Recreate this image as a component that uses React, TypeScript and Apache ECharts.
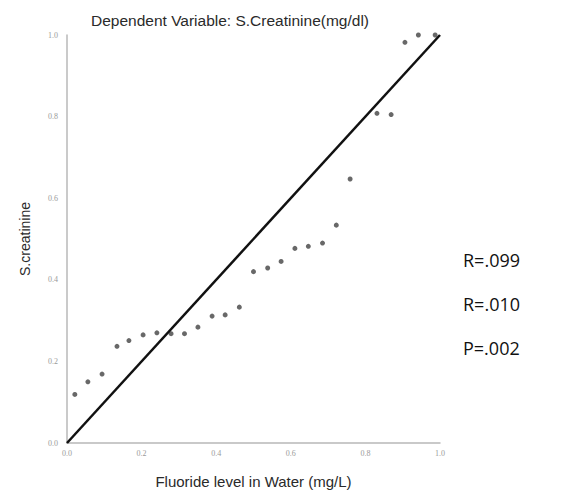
import React, { useEffect, useRef } from "react";
import * as echarts from "echarts";

// Expected (x) and observed (y) cumulative probabilities for S.Creatinine
const observedCumProb = [
  0.021, 0.056, 0.094, 0.134, 0.166, 0.204, 0.241, 0.279, 0.315, 0.351, 0.389,
  0.424, 0.462, 0.5, 0.538, 0.574, 0.611, 0.647, 0.685, 0.722, 0.759, 0.831,
  0.869, 0.906, 0.942, 0.987,
];
const expectedCumProb = [
  0.119, 0.15, 0.169, 0.237, 0.251, 0.265, 0.27, 0.268, 0.268, 0.284, 0.311,
  0.314, 0.333, 0.42, 0.429, 0.445, 0.477, 0.482, 0.49, 0.534, 0.647, 0.808,
  0.805, 0.982, 1.0, 1.0,
];
const referenceLine = [
  [0, 0],
  [1, 1],
];
const tickValues = [0, 0.2, 0.4, 0.6, 0.8, 1.0];
const statLabels = ["R=.099", "R=.010", "P=.002"];

const chartTitle = "Dependent Variable: S.Creatinine(mg/dl)";
const xAxisName = "Fluoride level in Water (mg/L)";
const yAxisName = "S.creatinine";

export default function App() {
  const ref = useRef<HTMLDivElement>(null);

  useEffect(() => {
    if (!ref.current) return;
    const chart = echarts.init(ref.current, null, { renderer: "svg" });
    const points = observedCumProb.map((x, i) => [x, expectedCumProb[i]]);
    const axisCommon = {
      min: 0,
      max: 1,
      interval: 0.2,
      axisLine: { show: true, lineStyle: { color: "#b8b8b8", width: 1.5 } },
      axisTick: { show: false },
      splitLine: { show: false },
      axisLabel: {
        fontSize: 8,
        color: "#9a9a9a",
        fontFamily: "Liberation Serif",
        formatter: (v: number) =>
          tickValues.some((t) => Math.abs(t - v) < 1e-6) ? v.toFixed(1) : "",
      },
    };
    chart.setOption({
      animation: false,
      backgroundColor: "#ffffff",
      title: {
        text: chartTitle,
        left: 86,
        top: 7,
        textStyle: {
          fontSize: 15.5,
          fontWeight: "normal",
          color: "#2a2a2a",
          fontFamily: "Liberation Sans",
        },
      },
      grid: { left: 67, top: 35, right: 133, bottom: 57 },
      xAxis: {
        type: "value",
        ...axisCommon,
        axisLabel: { ...axisCommon.axisLabel, margin: 6 },
        name: xAxisName,
        nameLocation: "middle",
        nameGap: 31,
        nameTextStyle: {
          fontSize: 15,
          color: "#2a2a2a",
          fontFamily: "Liberation Sans",
        },
      },
      yAxis: {
        type: "value",
        ...axisCommon,
        axisLabel: { ...axisCommon.axisLabel, margin: 9 },
        name: yAxisName,
        nameLocation: "middle",
        nameGap: 35,
        nameRotate: 90,
        nameTextStyle: {
          fontSize: 14,
          color: "#2a2a2a",
          fontFamily: "Liberation Sans",
        },
      },
      series: [
        {
          type: "line",
          data: referenceLine,
          symbol: "none",
          lineStyle: { color: "#111", width: 2.5 },
          z: 3,
        },
        {
          type: "scatter",
          data: points,
          symbol: "circle",
          symbolSize: 5,
          itemStyle: { color: "#4e4e4e", opacity: 0.85 },
          z: 2,
        },
      ],
      graphic: statLabels.map((t, i) => ({
        type: "text",
        left: 463,
        top: 251 + i * 44,
        style: {
          text: t,
          fontSize: 18,
          fill: "#111",
          fontFamily: "Open Sans",
        },
      })),
    });
    return () => chart.dispose();
  }, []);

  return (
    <div
      ref={ref}
      style={{ position: "fixed", left: 0, top: 0, width: 573, height: 500 }}
    />
  );
}
